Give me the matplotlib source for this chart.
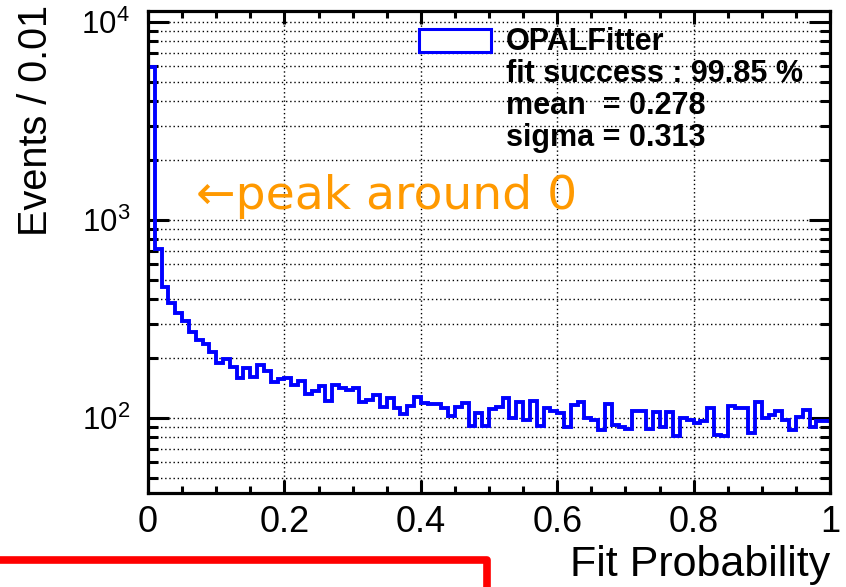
import numpy as np
import matplotlib
matplotlib.use("Agg")
import matplotlib.pyplot as plt
from matplotlib.lines import Line2D
from matplotlib.patches import Rectangle
from matplotlib.ticker import LogLocator, MultipleLocator, LogFormatterMathtext, FixedLocator

plt.rcParams['font.family'] = ['Liberation Sans', 'DejaVu Sans']
plt.rcParams['mathtext.fontset'] = 'custom'
plt.rcParams['mathtext.rm'] = 'Liberation Sans'
plt.rcParams['mathtext.it'] = 'Liberation Sans:italic'
plt.rcParams['mathtext.bf'] = 'Liberation Sans:bold'

# Fit probability histogram: 100 bins on [0, 1]
x_min, x_max, n_bins = 0.0, 1.0, 100
counts = [
    5930, 714, 460, 382, 338, 310, 273, 248, 236, 216,
    190, 198, 180, 159, 179, 162, 186, 173, 152, 158,
    159, 146, 154, 132, 137, 145, 122, 146, 141, 138,
    142, 120, 123, 130, 113, 126, 112, 105, 115, 127,
    119, 117, 117, 112, 102, 114, 119, 91, 106, 91,
    111, 113, 126, 100, 121, 98, 122, 91, 112, 108,
    106, 90, 116, 121, 100, 98, 87, 118, 92, 90,
    88, 108, 108, 88, 107, 90, 107, 81, 100, 98,
    94, 97, 112, 82, 81, 115, 112, 112, 84, 120,
    100, 104, 109, 98, 87, 101, 110, 90, 96, 96,
]
legend_lines = ["OPALFitter", "fit success : 99.85 %", "mean  = 0.278", "sigma = 0.313"]
x_ticks = [0, 0.2, 0.4, 0.6, 0.8, 1]
x_tick_labels = ["0", "0.2", "0.4", "0.6", "0.8", "1"]
y_range = (41.8, 11360)

W, H = 846, 587
fig = plt.figure(figsize=(W / 100, H / 100), dpi=100)
fig.patch.set_facecolor('white')


def fx(x):
    return x / W


def fy(y):
    return 1 - y / H


ax = fig.add_axes([fx(148), fy(493), fx(830) - fx(148), fy(11) - fy(493)])
edges = np.linspace(x_min, x_max, n_bins + 1)
hist_color = '#0000FF'
ax.stairs(counts, edges, baseline=None, color=hist_color, lw=2.8, zorder=3)
# rising edge of the first bin, from the bottom of the frame
ax.vlines(x_min, y_range[0], counts[0], color=hist_color, lw=2.8, zorder=3)

ax.set_yscale('log')
ax.set_xlim(x_min, x_max)
ax.set_ylim(*y_range)

ax.xaxis.set_major_locator(FixedLocator(x_ticks))
ax.set_xticklabels(x_tick_labels)
ax.xaxis.set_minor_locator(MultipleLocator(0.05))
ax.yaxis.set_major_locator(LogLocator(base=10, numticks=10))
ax.yaxis.set_minor_locator(LogLocator(base=10, subs=np.arange(2, 10), numticks=20))
ax.yaxis.set_major_formatter(LogFormatterMathtext())
ax.yaxis.set_minor_formatter(plt.NullFormatter())

for s in ax.spines.values():
    s.set_linewidth(2.3)
    s.set_zorder(5)

ax.tick_params(axis='both', which='both', direction='in', top=True, right=True, width=2.2, color='black')
ax.tick_params(axis='x', which='major', length=9.5, pad=9, labelsize=26)
ax.tick_params(axis='x', which='minor', length=5)
ax.tick_params(axis='y', which='major', length=15, pad=13, labelsize=22.5)
ax.tick_params(axis='y', which='minor', length=7.5)

ax.grid(True, which='major', axis='x', color='black', linestyle=(0, (1, 2)), lw=1.0)
ax.grid(True, which='both', axis='y', color='black', linestyle=(0, (1, 2)), lw=1.0)
ax.set_axisbelow(True)

# axis titles
fig.text(fx(830), fy(576), "Fit Probability", ha='right', va='baseline', fontsize=31)
fig.text(fx(36), fy(5), "Events / 0.01", rotation=90, ha='center', va='top', fontsize=28.5)

# annotation pointing at the spike in the first bin
fig.text(fx(196), fy(197), "\u2190peak around 0", color='#FF9900', fontsize=34,
         ha='left', va='center', family=['DejaVu Sans'])

# legend box entry and statistics
fig.add_artist(Rectangle((fx(419), fy(52)), fx(491) - fx(419), fy(29) - fy(52),
                         transform=fig.transFigure, facecolor='white', edgecolor=hist_color, lw=2.2))
for i, line in enumerate(legend_lines):
    fig.text(fx(506), fy(50 + 32 * i), line, ha='left', va='baseline',
             fontsize=22, fontweight='bold')

# red frame in the lower left
fig.add_artist(Line2D([0, fx(487), fx(487)], [fy(560), fy(560), fy(600)],
                      transform=fig.transFigure, color='#FF0000', lw=5.5,
                      solid_joinstyle='round', solid_capstyle='butt'))

fig.savefig("out.png", dpi=100)
